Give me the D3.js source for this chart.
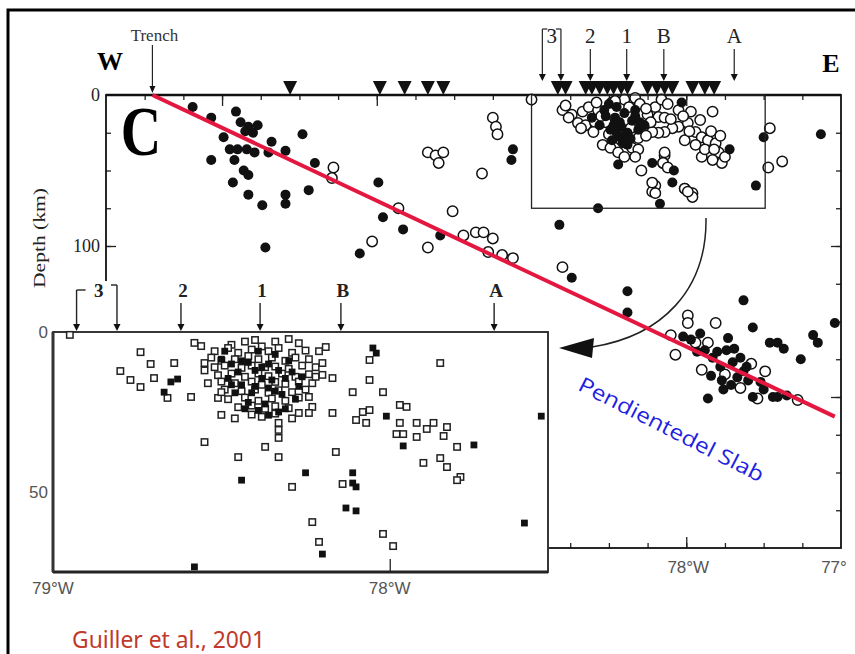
<!DOCTYPE html>
<html>
<head>
<meta charset="utf-8">
<script src="https://cdn.jsdelivr.net/npm/d3@7"></script>
<style>
body{margin:0;background:#fff}
svg{display:block}
</style>
</head>
<body>
<svg width="855" height="654"></svg>
<script>
// cross section C: longitude (deg, negative = W) and depth (km)
var volcanoLon = [-80.56,-79.98,-79.82,-79.67,-79.57,-78.83,-78.78,-78.65,-78.61,-78.56,-78.51,-78.47,
  -78.42,-78.38,-78.25,-78.19,-78.14,-78.09,-77.96,-77.88,-77.82];
var profileNames = ["3","2","1","B","A"];
var profileLon = [[-78.93,-78.81],[-78.62],[-78.385],[-78.145],[-77.69]];
var trenchLon = -81.45;
var slabLine = [[-81.45,0],[-77.04,213]];

// main section, filled and open circles
var mainFilled = [
  [-81.19,8],[-81.07,15],[-80.99,28],[-81.07,43],[-80.91,11],[-80.88,18],[-80.83,21],[-80.77,20],[-80.85,24],[-80.80,25],
  [-80.95,36],[-80.90,36],[-80.84,36],[-80.79,38],[-80.92,43],[-80.86,50],[-80.83,53],[-80.93,58],[-80.83,66],[-80.74,73],
  [-80.72,101],[-80.68,31],[-80.70,38],[-80.59,37],[-80.48,26],[-80.40,45],[-80.59,66],[-80.59,72],[-80.44,63],[-79.99,58],
  [-79.96,81],[-79.83,89],[-80.11,105],[-79.59,93],[-79.12,36],[-79.13,43],[-78.82,86],[-78.57,75],[-78.17,72],[-78.44,46],
  [-78.22,45],[-78.09,58],[-78.08,50],[-78.38,130],[-78.38,144],[-77.55,60],[-77.50,28],[-77.13,26],[-77.63,136],[-77.57,154],
  [-78.03,5],[-78.74,121],
  [-77.46,164],[-77.41,164],[-77.37,168],[-77.26,175],[-77.18,159],[-77.15,164],[-77.04,151],
  [-78.02,160],[-77.97,162],[-77.91,158],[-77.88,169],[-77.83,174],[-77.78,180],[-77.77,189],[-77.76,195],[-77.73,161],[-77.70,177],
  [-77.65,174],[-77.63,183],[-77.67,187],[-77.60,189],[-77.57,200],[-77.86,201],[-77.44,200],[-77.41,200],[-77.35,199],[-77.74,169],
  [-77.80,170],[-77.69,168],[-77.61,180],[-77.71,192],[-77.52,190],[-77.50,195],[-77.93,170],[-77.84,186],
  [-77.72,36],[-78.53,10],[-78.46,15],[-78.42,21],[-78.38,25],[-78.40,12],[-78.35,17],[-78.49,23],[-78.43,28],[-78.33,10],
  [-78.61,15],[-78.31,23],[-78.27,20],[-78.38,33],[-78.48,30],
  [-78.50,6],[-78.45,8],[-78.43,18],[-78.47,20],[-78.40,27],[-78.36,29],[-78.33,14],[-78.30,18],[-78.45,25],[-78.52,14],
  [-78.56,20],[-78.41,32]
];
var mainOpen = [
  [-80.28,48],[-80.29,55],[-79.86,75],[-80.03,97],[-79.67,38],[-79.67,101],[-79.62,40],[-79.57,38],[-79.60,45],[-79.32,52],
  [-79.25,15],[-79.23,21],[-79.22,26],[-79.51,77],[-79.44,93],[-79.36,91],[-79.31,91],[-79.25,95],[-79.28,104],[-79.19,106],
  [-79.12,108],[-78.80,114],[-79.00,3],[-77.46,22],[-77.47,48],[-77.38,44],[-77.99,146],[-77.99,151],[-77.81,151],[-77.83,11],
  [-77.96,65],[-78.01,62],[-78.20,60],[-78.22,64],[-78.14,40],[-78.15,45],
  [-78.10,159],[-78.07,172],[-77.94,164],[-77.86,164],[-77.90,182],[-77.65,194],[-77.54,201],[-77.49,183],[-77.28,202],
  [-77.75,185],[-77.58,178],
  [-78.80,10],[-78.74,13],[-78.67,11],[-78.63,8],[-78.76,15],[-78.70,18.5],[-78.65,20],[-78.59,18],[-78.52,18],[-78.20,8],
  [-78.16,3],[-78.18,14.6],[-78.14,15],[-78.05,10],[-78.05,21],[-77.99,18.5],[-77.94,24.5],[-77.90,28],[-77.86,30],[-77.81,32],
  [-77.79,38],[-77.86,38],[-77.90,41],[-77.77,45],[-77.75,41],[-77.83,43],[-78.09,22],[-78.14,24.5],[-78.18,25],[-78.22,24.5],
  [-78.54,33],[-78.49,35],[-78.44,38],[-78.40,41],[-78.35,35],[-78.31,36],[-78.29,50],[-78.33,41],[-78.14,38],[-78.15,45],
  [-78.12,48],[-78.22,58],[-78.20,65],[-78.01,62],[-77.96,67.5],[-77.99,64],[-78.48,5],[-78.40,3],[-78.33,2],[-78.44,20],
  [-78.31,28.5],[-78.57,10],[-78.60,24.5],[-78.25,13],[-78.29,20],[-77.97,11],[-77.91,16.6],[-77.94,33],[-78.01,30],
  [-78.58,5],[-78.55,14],[-78.50,26],[-78.46,4],[-78.37,8],[-78.30,6],[-78.26,9],[-78.23,18],[-78.26,27],[-78.36,22],
  [-78.42,30],[-78.12,6],[-78.10,16],[-78.02,14],[-77.98,24],[-77.88,36],[-77.84,24],[-77.78,27],[-77.82,36],[-78.68,22],
  [-78.78,7]
];

// zoomed inset (79W - 77.5W, 0-75 km), open and filled squares
var insetOpen = [
  [-78.47,4],[-78.43,3],[-78.40,2.5],[-78.38,4.5],[-78.34,3],[-78.30,2.2],[-78.27,3.5],
  [-78.52,6],[-78.48,5],[-78.45,6.5],[-78.41,5.5],[-78.36,6],[-78.33,5],[-78.29,6.5],[-78.25,5.8],
  [-78.53,8],[-78.50,9],[-78.46,8.5],[-78.42,7.5],[-78.39,8.5],[-78.35,8],[-78.31,9],[-78.28,8],[-78.24,8.5],
  [-78.52,11],[-78.49,10.5],[-78.44,11.2],[-78.41,10.5],[-78.37,11],[-78.34,10.8],[-78.30,11.5],[-78.26,10.5],[-78.22,11],
  [-78.51,13.5],[-78.47,13],[-78.43,14],[-78.39,13],[-78.36,13.8],[-78.32,13],[-78.28,14],[-78.24,13.2],
  [-78.50,15.5],[-78.46,16],[-78.41,15.5],[-78.38,16.5],[-78.34,15.6],[-78.31,16.2],[-78.27,15.5],[-78.23,16],
  [-78.49,18],[-78.44,18.5],[-78.40,18],[-78.36,19],[-78.33,18.2],[-78.29,18.8],[-78.25,18],
  [-78.48,21],[-78.43,20.5],[-78.39,21.5],[-78.35,20.8],[-78.31,21.5],[-78.27,20.5],
  [-78.45,23.5],[-78.41,23],[-78.37,24],[-78.34,23.2],[-78.30,23.8],
  [-78.41,25.8],[-78.38,26.5],[-78.34,25.5],
  [-78.55,12],[-78.54,16],[-78.21,6],[-78.22,14],[-78.29,27],[-78.46,27],
  [-78.95,0.9],[-78.74,6.3],[-78.71,10],[-78.64,9.7],[-78.80,12.2],[-78.77,15],[-78.74,17.2],[-78.70,14.4],[-78.66,20.6],
  [-78.59,20.3],[-78.58,3.4],[-78.56,4.4],[-78.55,9.7],[-78.51,20.6],[-78.50,18.8],[-78.50,25.9],[-78.55,34.4],[-78.37,35.9],
  [-78.45,39.1],[-78.33,39.1],[-78.33,30.6],[-78.33,33.1],[-78.33,28.4],[-78.19,4.7],[-78.20,9.7],[-78.20,13.4],[-78.17,14.4],
  [-78.24,20.3],[-78.23,23.4],[-78.27,25.3],[-78.24,25.3],[-78.17,25.3],[-78.06,8.75],[-78.06,15],[-78.11,18.8],[-78.02,18.8],
  [-78.08,25],[-78.06,24.4],[-78.10,27.5],[-78.07,28.4],[-77.97,22.8],[-77.95,23.4],[-77.97,28.4],[-77.98,31.9],[-77.96,31.9],
  [-77.92,32.8],[-77.92,28.4],[-77.89,30.3],[-77.87,28.4],[-77.83,29.7],[-77.84,32.5],[-77.80,35.9],[-77.85,9.7],[-78.16,37.5],
  [-78.29,48.4],[-78.14,47.5],[-78.23,59.4],[-78.21,65.6],[-78.02,63.1],[-77.99,66.9],[-77.90,40.9],[-77.85,39.4],[-77.83,42.2],
  [-77.79,45.3],[-77.80,46.3]
];
var insetFilled = [
  [-78.50,8.5],[-78.47,10],[-78.45,12.5],[-78.42,9.5],[-78.40,12],[-78.38,14.5],[-78.36,10],[-78.33,12],[-78.31,14.5],
  [-78.44,16.5],[-78.40,17],[-78.36,17.5],[-78.32,19.5],[-78.46,19],[-78.42,22],[-78.37,22.5],[-78.34,7],[-78.29,12.5],
  [-78.27,17],[-78.48,14.5],[-78.33,25],
  [-78.49,6],[-78.44,9],[-78.39,6],[-78.35,15],[-78.30,9],[-78.28,21],[-78.41,19],[-78.38,11],[-78.34,18.5],[-78.43,24],
  [-78.47,16.5],[-78.26,14],[-78.31,24],[-78.39,24.5],[-78.36,26],
  [-78.65,15.6],[-78.63,14.7],[-78.67,18.8],[-78.05,5],[-78.04,6.6],[-78.01,26.3],[-77.96,35.6],[-77.75,35.3],[-78.25,44],
  [-78.11,44],[-78.11,47.2],[-78.10,48.4],[-78.13,55],[-78.10,55.9],[-78.20,69.4],[-77.55,26.3],[-77.60,59.7],[-78.44,46.3],
  [-78.58,73.4]
];

var svg = d3.select("svg");
var serif = "'Liberation Serif','DejaVu Serif',serif";
var sans = "'Liberation Sans',Arial,sans-serif";

var x = d3.scaleLinear().domain([-81.75,-77]).range([106,841]);
var y = d3.scaleLinear().domain([0,300]).range([95,548]);
var xi = d3.scaleLinear().domain([-79,-77.53]).range([53,548]);
var yi = d3.scaleLinear().domain([0,75]).range([332,572]);

// outer frame (runs off the right and bottom edges)
svg.append("rect").attr("x",8).attr("y",10).attr("width",900).attr("height",700)
  .attr("fill","none").attr("stroke","#000").attr("stroke-width",3);

// ---- main section axes
var lonMinor = d3.range(-81.5,-77,0.25);
var lonMajor = [-81,-80,-79,-78];
var depMinor = d3.range(25,300,25);
var depMajor = [100,200];

function tickAxis(axis, tr){
  var g = svg.append("g").attr("transform",tr).call(axis);
  g.select(".domain").remove();
  g.selectAll("line").attr("stroke","#222").attr("stroke-width",1.3);
  return g;
}
tickAxis(d3.axisTop(x).tickValues(lonMinor).tickSize(-5).tickFormat(""),"translate(0,95)");
tickAxis(d3.axisTop(x).tickValues(lonMajor).tickSize(-11).tickFormat(""),"translate(0,95)");
tickAxis(d3.axisBottom(x).tickValues(lonMinor).tickSize(-5).tickFormat(""),"translate(0,548)");
tickAxis(d3.axisBottom(x).tickValues(lonMajor).tickSize(-11).tickFormat(""),"translate(0,548)");
tickAxis(d3.axisLeft(y).tickValues(depMinor).tickSize(-5).tickFormat(""),"translate(106,0)");
tickAxis(d3.axisLeft(y).tickValues(depMajor).tickSize(-10).tickFormat(""),"translate(106,0)");
tickAxis(d3.axisRight(y).tickValues(depMinor).tickSize(-5).tickFormat(""),"translate(841,0)");
tickAxis(d3.axisRight(y).tickValues(depMajor).tickSize(-10).tickFormat(""),"translate(841,0)");

svg.append("rect").attr("x",x(-81.75)).attr("y",y(0))
  .attr("width",x(-77)-x(-81.75)).attr("height",y(300)-y(0))
  .attr("fill","none").attr("stroke","#111").attr("stroke-width",1.8);
svg.append("line").attr("x1",x(-81.75)).attr("x2",x(-77)).attr("y1",y(0)).attr("y2",y(0))
  .attr("stroke","#111").attr("stroke-width",2.6);

// depth labels
svg.selectAll(".dlab").data([0,100,200]).enter().append("text")
  .attr("x",100).attr("y",function(d){return y(d)+6;})
  .attr("text-anchor","end").attr("font-family",serif).attr("font-size",18).attr("fill","#222")
  .text(function(d){return d;});
svg.append("text").attr("transform","translate(45,238) rotate(-90)")
  .attr("text-anchor","middle").attr("font-family",serif).attr("font-size",17)
  .attr("textLength",100).attr("lengthAdjust","spacingAndGlyphs").attr("fill","#222")
  .text("Depth (km)");

// bottom longitude labels
svg.selectAll(".blab").data([[-78,"78°W"],[-77,"77°"]]).enter().append("text")
  .attr("x",function(d){return x(d[0]) + (d[0]===-77 ? -7 : 2);}).attr("y",573)
  .attr("text-anchor","middle").attr("font-family",sans).attr("font-size",17).attr("fill","#555")
  .text(function(d){return d[1];});

// volcanoes
svg.selectAll(".volc").data(volcanoLon).enter().append("path")
  .attr("d",function(d){var c=x(d);return "M"+(c-7)+",81L"+(c+7)+",81L"+c+",95Z";})
  .attr("fill","#111");

// ---- main seismicity
svg.selectAll(".mo").data(mainOpen).enter().append("circle")
  .attr("cx",function(d){return x(d[0]);}).attr("cy",function(d){return y(d[1]);})
  .attr("r",5.2).attr("fill","#fff").attr("stroke","#111").attr("stroke-width",1.5);
svg.selectAll(".mf").data(mainFilled).enter().append("circle")
  .attr("cx",function(d){return x(d[0]);}).attr("cy",function(d){return y(d[1]);})
  .attr("r",5).attr("fill","#111");

// box showing the zoomed area
svg.append("rect").attr("x",x(-79)).attr("y",y(0))
  .attr("width",x(-77.49)-x(-79)).attr("height",y(75)-y(0))
  .attr("fill","none").attr("stroke","#222").attr("stroke-width",1.3);

// curved arrow to the inset
svg.append("path").attr("d","M706,218 C707,290 662,336 592,347")
  .attr("fill","none").attr("stroke","#222").attr("stroke-width",1.5);
svg.append("path").attr("d","M559,348 L594,338 L592,358 Z").attr("fill","#111");

// trench marker
svg.append("text").attr("x",x(trenchLon)+2).attr("y",41).attr("text-anchor","middle")
  .attr("font-family",serif).attr("font-size",17).attr("fill","#333").text("Trench");
svg.append("line").attr("x1",x(trenchLon)).attr("x2",x(trenchLon)).attr("y1",45).attr("y2",88)
  .attr("stroke","#222").attr("stroke-width",1.2);
svg.append("path").attr("d","M"+(x(trenchLon)-3)+",86L"+(x(trenchLon)+3)+",86L"+x(trenchLon)+",93Z").attr("fill","#111");

svg.append("text").attr("x",110).attr("y",70).attr("text-anchor","middle")
  .attr("font-family",serif).attr("font-weight","bold").attr("font-size",26).text("W");
svg.append("text").attr("x",831).attr("y",72).attr("text-anchor","middle")
  .attr("font-family",serif).attr("font-weight","bold").attr("font-size",26).text("E");
svg.append("text").attr("transform","translate(141,155) scale(0.8,1)").attr("text-anchor","middle")
  .attr("font-family",serif).attr("font-weight","bold").attr("font-size",70).text("C");

// profile arrows (top of main section)
function downArrow(xp, y0, y1, w){
  svg.append("line").attr("x1",xp).attr("x2",xp).attr("y1",y0).attr("y2",y1-5)
    .attr("stroke","#222").attr("stroke-width",w);
  svg.append("path").attr("d","M"+(xp-3.5)+","+(y1-7)+"L"+(xp+3.5)+","+(y1-7)+"L"+xp+","+y1+"Z").attr("fill","#111");
}
profileNames.forEach(function(name,i){
  var lons = profileLon[i];
  var cx = d3.mean(lons, function(l){return x(l);});
  svg.append("text").attr("x",cx).attr("y",43).attr("text-anchor","middle")
    .attr("font-family",serif).attr("font-size",21).attr("fill","#222").text(name);
  if(lons.length===2){
    var a = x(lons[0]), b = x(lons[1]);
    svg.append("path").attr("d","M"+(a+5)+",29H"+a).attr("stroke","#222").attr("fill","none").attr("stroke-width",1.2);
    svg.append("path").attr("d","M"+(b-5)+",29H"+b).attr("stroke","#222").attr("fill","none").attr("stroke-width",1.2);
    downArrow(a,29,81,1.2);
    downArrow(b,29,81,1.2);
  } else {
    downArrow(cx,49,81,1.2);
  }
});

// ---- lower inset (zoom of the boxed area)
svg.append("rect").attr("x",50).attr("y",281).attr("width",499).attr("height",318).attr("fill","#fff");
svg.append("rect").attr("x",xi(-79)).attr("y",yi(0))
  .attr("width",xi(-77.53)-xi(-79)).attr("height",yi(75)-yi(0))
  .attr("fill","none").attr("stroke","#222").attr("stroke-width",1.8);
svg.append("line").attr("x1",xi(-79)).attr("x2",xi(-77.53)).attr("y1",yi(75)).attr("y2",yi(75))
  .attr("stroke","#222").attr("stroke-width",3);
svg.append("line").attr("x1",xi(-79)).attr("x2",xi(-79)).attr("y1",yi(0)).attr("y2",yi(75))
  .attr("stroke","#333").attr("stroke-width",3);
tickAxis(d3.axisBottom(xi).tickValues([-78]).tickSize(-13).tickFormat(""),"translate(0,"+yi(75)+")");

svg.selectAll(".io").data(insetOpen).enter().append("rect")
  .attr("x",function(d){return xi(d[0])-3.2;}).attr("y",function(d){return yi(d[1])-3.2;})
  .attr("width",6.4).attr("height",6.4).attr("fill","#fff").attr("stroke","#222").attr("stroke-width",1.5);
svg.selectAll(".if").data(insetFilled).enter().append("rect")
  .attr("x",function(d){return xi(d[0])-3.4;}).attr("y",function(d){return yi(d[1])-3.4;})
  .attr("width",6.8).attr("height",6.8).attr("fill","#111");

svg.selectAll(".ilab").data([[0,"0"],[50,"50"]]).enter().append("text")
  .attr("x",48).attr("y",function(d){return yi(d[0])+6;}).attr("text-anchor","end")
  .attr("font-family",sans).attr("font-size",17).attr("fill","#555").text(function(d){return d[1];});
svg.selectAll(".ixl").data([[-79,"79°W"],[-78,"78°W"]]).enter().append("text")
  .attr("x",function(d){return xi(d[0]);}).attr("y",594).attr("text-anchor","middle")
  .attr("font-family",sans).attr("font-size",17).attr("fill","#555").text(function(d){return d[1];});

profileNames.forEach(function(name,i){
  var lons = profileLon[i];
  var cx = d3.mean(lons, function(l){return xi(l);});
  svg.append("text").attr("x",cx+2).attr("y",297).attr("text-anchor","middle")
    .attr("font-family",serif).attr("font-weight","bold").attr("font-size",19).attr("fill","#222").text(name);
  if(lons.length===2){
    var a = xi(lons[0]), b = xi(lons[1]);
    svg.append("path").attr("d","M"+(a+9)+",290H"+a).attr("stroke","#222").attr("fill","none").attr("stroke-width",1.4);
    svg.append("path").attr("d","M"+(b-6)+",285H"+b).attr("stroke","#222").attr("fill","none").attr("stroke-width",1.4);
    downArrow(a,290,331,1.4);
    downArrow(b,285,331,1.4);
  } else {
    downArrow(cx,303,331,1.4);
  }
});

// slab line, drawn over everything else
svg.append("path").datum(slabLine)
  .attr("d",d3.line().x(function(d){return x(d[0]);}).y(function(d){return y(d[1]);}))
  .attr("stroke","#e3173f").attr("stroke-width",4).attr("fill","none");

// annotations
svg.append("text").attr("transform","translate(668,436) rotate(27)").attr("text-anchor","middle")
  .attr("font-family","'Open Sans','Noto Sans',sans-serif").attr("font-size",21)
  .attr("textLength",205).attr("lengthAdjust","spacingAndGlyphs")
  .attr("fill","#1f1fe0").text("Pendientedel Slab");
svg.append("text").attr("x",72).attr("y",648)
  .attr("font-family","'Noto Sans','Open Sans',sans-serif").attr("font-size",24)
  .attr("textLength",193).attr("lengthAdjust","spacingAndGlyphs")
  .attr("fill","#c0392b").text("Guiller et al., 2001");
</script>
</body>
</html>
